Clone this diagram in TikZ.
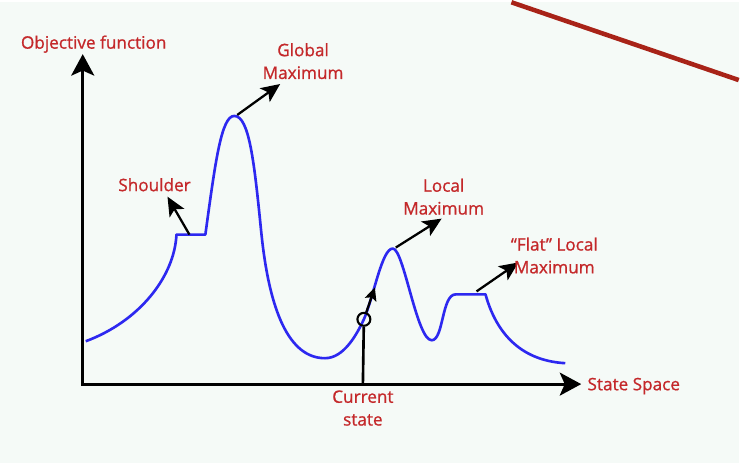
\documentclass[tikz,border=0pt]{standalone}
\usepackage{fontspec}
\setmainfont{Open Sans}
\newfontfamily\lblfont{Open Sans}[RawFeature={embolden=0.9}]
\usepackage{tikz}
\usetikzlibrary{arrows.meta}
\definecolor{bgcol}{RGB}{245,250,247}
\definecolor{lblred}{RGB}{196,40,42}
\definecolor{curveblue}{RGB}{45,40,240}
\definecolor{edgered}{RGB}{168,35,24}
\tikzstyle{axis} = [line width=1.8pt,line cap=rect,-{Stealth[length=0.43cm,width=0.46cm,inset=0.1cm]}]
\tikzstyle{pointer} = [line width=1.3pt,-{Stealth[length=0.38cm,width=0.34cm,inset=0.09cm]}]
\tikzstyle{smallpointer} = [line width=1.3pt,-{Stealth[length=0.26cm,width=0.24cm,inset=0.05cm]}]
\tikzstyle{redtext} = [text=lblred,font=\lblfont\fontsize{9.8}{13}\selectfont,align=center,inner sep=0pt]
\tikzstyle{landscape} = [curveblue,line width=1.5pt,line join=round]

\begin{document}
\begin{tikzpicture}[x=0.02cm,y=-0.02cm]
\fill[bgcol] (0,0) rectangle (741,462);

\coordinate (edgeA) at (513,0);
\coordinate (edgeB) at (741,78);
\draw[edgered,line width=2.6pt] (edgeA) -- (edgeB);

\coordinate (origin) at (83,383);
\coordinate (ytip) at (83,52);
\coordinate (xtip) at (583,383);
\draw[axis] (origin) -- (ytip);
\draw[axis] (origin) -- (xtip);

\draw[landscape] (86,340) .. controls (140,320) and (175,275) .. (177,233) -- (206,233)
  .. controls (216,160) and (222,114) .. (235,114)
  .. controls (250,114) and (255,160) .. (262,230)
  .. controls (270,310) and (290,357) .. (326,357)
  .. controls (345,357) and (358,333) .. (365,318)
  .. controls (375,295) and (383,247) .. (394,247)
  .. controls (405,247) and (418,339) .. (433,339)
  .. controls (445,339) and (443,293) .. (457,293) -- (487,293)
  .. controls (500,340) and (530,360) .. (567,362);

\node[circle,draw,line width=1.2pt,minimum size=0.26cm,inner sep=0pt] (cur) at (365,318) {};
\coordinate (curbase) at (364,383);
\coordinate (curtip) at (376,286);
\draw[line width=1.5pt] (curbase) -- (cur);
\draw[smallpointer] (cur) -- (curtip);

\coordinate (gfrom) at (238,113);
\coordinate (gto) at (281,82);
\coordinate (sfrom) at (190,233);
\coordinate (sto) at (168,195);
\coordinate (lfrom) at (397,246);
\coordinate (lto) at (443,217);
\coordinate (ffrom) at (478,290);
\coordinate (fto) at (520,261);
\draw[pointer] (gfrom) -- (gto);
\draw[pointer] (sfrom) -- (sto);
\draw[pointer] (lfrom) -- (lto);
\draw[pointer] (ffrom) -- (fto);

\node[redtext] (objlbl) at (94,42) {Objective function};
\node[redtext] (globlbl) at (304,59) {Global\\Maximum};
\node[redtext] (shlbl) at (155,183) {Shoulder};
\node[redtext] (loclbl) at (445,195) {Local\\Maximum};
\node[redtext] (flatlbl) at (556,254) {“Flat” Local\\Maximum};
\node[redtext,anchor=west] (sslbl) at (589,385) {State Space};
\node[redtext] (curlbl) at (364,407) {Current\\state};
\end{tikzpicture}
\end{document}
